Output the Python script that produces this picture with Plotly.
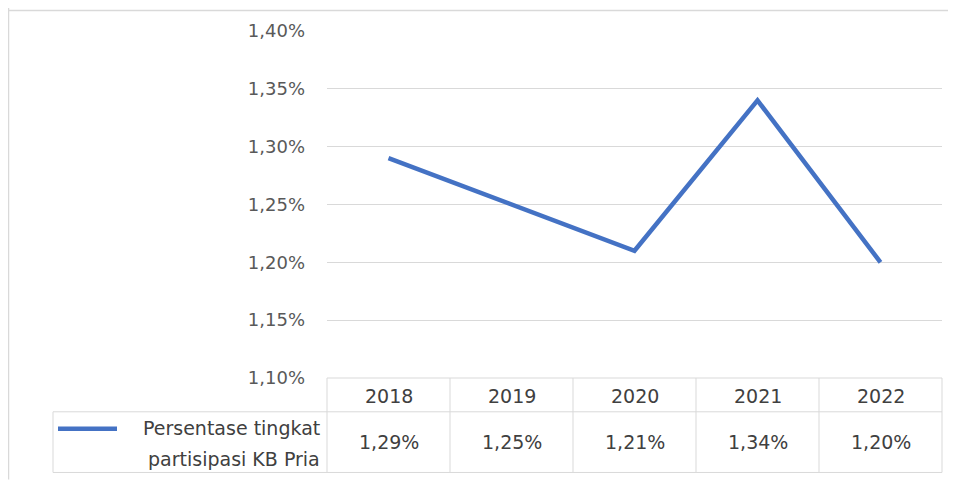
import plotly.graph_objects as go

years = ["2018", "2019", "2020", "2021", "2022"]
values = [1.29, 1.25, 1.21, 1.34, 1.20]
series_name_lines = ["Persentase tingkat", "partisipasi KB Pria"]
y_ticks = [1.10, 1.15, 1.20, 1.25, 1.30, 1.35, 1.40]

OFF = 8  # page body margin
W, H = 956 - OFF, 480 - OFF
# plot area in reference-page pixels
L, R, T, B = 327, 942, 29, 378
FONT = "DejaVu Sans, sans-serif"
LINE_COLOR = "#4472C4"
GRID = "#d9d9d9"

def px_x(px):
    return (px - L) / (R - L)

def px_y(py):
    return (B - py) / (B - T)

def fmt(v):
    return f"{v:.2f}".replace(".", ",") + "%"

fig = go.Figure()
fig.add_trace(go.Scatter(
    x=list(range(len(years))), y=values, mode="lines",
    line=dict(color=LINE_COLOR, width=4.5), hoverinfo="skip", showlegend=False,
))

shapes = []
# outer chart border (left and top)
shapes.append(dict(type="line", xref="paper", yref="paper", x0=px_x(8.5), x1=px_x(8.5),
                   y0=px_y(4), y1=px_y(480), line=dict(color="#d9d9d9", width=1.5)))
shapes.append(dict(type="line", xref="paper", yref="paper", x0=px_x(8), x1=px_x(960),
                   y0=px_y(8.5), y1=px_y(8.5), line=dict(color="#d9d9d9", width=1.5)))

# data table grid
row1, row2, row3 = 378, 412, 473
col_w = (R - L) / len(years)
shapes.append(dict(type="line", xref="paper", yref="paper", x0=0, x1=1,
                   y0=px_y(row1), y1=px_y(row1), line=dict(color=GRID, width=1)))
for ry in (row2, row3):
    shapes.append(dict(type="line", xref="paper", yref="paper", x0=px_x(53), x1=1,
                       y0=px_y(ry), y1=px_y(ry), line=dict(color=GRID, width=1)))
shapes.append(dict(type="line", xref="paper", yref="paper", x0=px_x(53), x1=px_x(53),
                   y0=px_y(row2), y1=px_y(row3), line=dict(color=GRID, width=1)))
for i in range(len(years) + 1):
    xx = px_x(L + i * col_w)
    shapes.append(dict(type="line", xref="paper", yref="paper", x0=xx, x1=xx,
                       y0=px_y(row1), y1=px_y(row3), line=dict(color=GRID, width=1)))
# legend key line
shapes.append(dict(type="line", xref="paper", yref="paper", x0=px_x(58), x1=px_x(117),
                   y0=px_y(429), y1=px_y(429), line=dict(color=LINE_COLOR, width=4.5)))

annotations = []
for i, (yr, v) in enumerate(zip(years, values)):
    annotations.append(dict(x=i, xref="x", y=px_y((row1 + row2) / 2 + 1), yref="paper",
                            text=yr, showarrow=False, xanchor="center", yanchor="middle",
                            font=dict(family=FONT, size=19, color="#404040")))
    annotations.append(dict(x=i, xref="x", y=px_y((row2 + row3) / 2), yref="paper",
                            text=fmt(v), showarrow=False, xanchor="center", yanchor="middle",
                            font=dict(family=FONT, size=19, color="#404040")))
for k, line in enumerate(series_name_lines):
    annotations.append(dict(x=px_x(322), xref="paper", y=px_y(428 + 31 * k), yref="paper",
                            text=line, showarrow=False, xanchor="right", yanchor="middle",
                            font=dict(family=FONT, size=19, color="#404040")))

fig.update_layout(
    width=W, height=H,
    margin=dict(l=L - OFF, r=956 - R, t=T - OFF, b=480 - B, pad=0),
    paper_bgcolor="white", plot_bgcolor="white",
    separators=",.",
    xaxis=dict(range=[-0.5, len(years) - 0.5], showticklabels=False, showgrid=False,
               zeroline=False, showline=False, fixedrange=True),
    yaxis=dict(range=[y_ticks[0], y_ticks[-1]], tickvals=y_ticks,
               ticktext=[fmt(t) for t in y_ticks],
               showgrid=True, gridcolor=GRID, gridwidth=1, zeroline=False, showline=False,
               ticklabelstandoff=21, tickfont=dict(family=FONT, size=18, color="#595959"),
               fixedrange=True),
    shapes=shapes, annotations=annotations,
)

fig.write_html("out.html")
